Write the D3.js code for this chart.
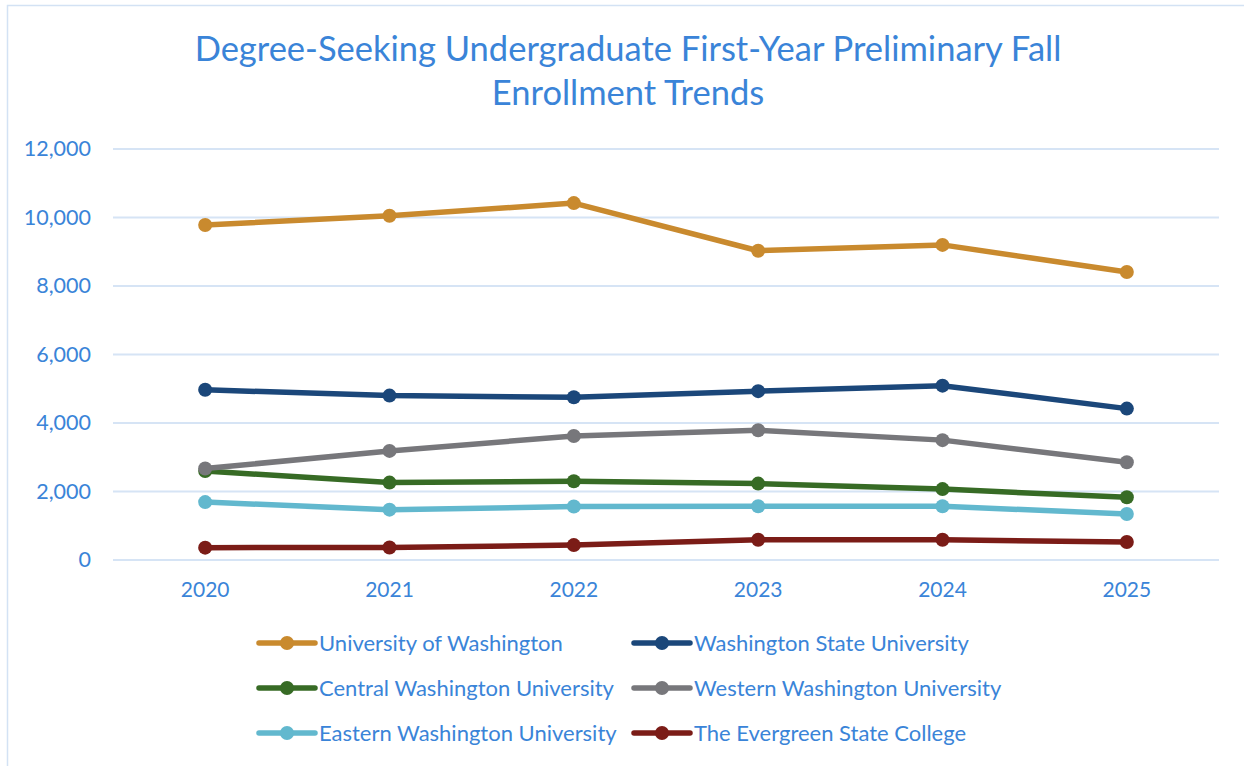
<!DOCTYPE html>
<html>
<head>
<meta charset="utf-8">
<script src="https://cdn.jsdelivr.net/npm/d3@7"></script>
<style>
  body { margin: 0; background: #fff; }
  text { font-family: Lato, "Noto Sans", sans-serif; fill: #3a84d8; }
</style>
</head>
<body>
<svg id="chart" width="1244" height="766"></svg>
<script>
const years = ["2020", "2021", "2022", "2023", "2024", "2025"];
const yTicks = [0, 2000, 4000, 6000, 8000, 10000, 12000];
const titleLines = ["Degree-Seeking Undergraduate First-Year Preliminary Fall", "Enrollment Trends"];

const uw   = [9780, 10050, 10420, 9030, 9200, 8410];
const wsu  = [4970, 4800, 4750, 4930, 5090, 4420];
const cwu  = [2600, 2260, 2300, 2230, 2070, 1830];
const wwu  = [2670, 3185, 3620, 3790, 3500, 2855];
const ewu  = [1690, 1470, 1560, 1570, 1570, 1345];
const tesc = [360, 365, 435, 590, 590, 525];

const series = [
    {name: "University of Washington", values: uw, color: "#c98a2e"},
    {name: "Washington State University", values: wsu, color: "#1b477a"},
    {name: "Central Washington University", values: cwu, color: "#376b25"},
    {name: "Western Washington University", values: wwu, color: "#77777b"},
    {name: "Eastern Washington University", values: ewu, color: "#62b8ce"},
    {name: "The Evergreen State College", values: tesc, color: "#7b1c17"}
];

const svg = d3.select("#chart");
const margin = {top: 149, right: 25, bottom: 206, left: 113};
const width = 1244 - margin.left - margin.right;
const height = 766 - margin.top - margin.bottom;

// chart frame
svg.append("rect")
    .attr("x", 7.5).attr("y", 5.5)
    .attr("width", 1250).attr("height", 800)
    .attr("fill", "none")
    .attr("stroke", "#d3e2f4")
    .attr("stroke-width", 1.5);

// title
svg.append("text")
    .attr("x", 628)
    .attr("y", 61)
    .attr("text-anchor", "middle")
    .attr("font-size", "34.5px")
    .selectAll("tspan")
    .data(titleLines)
    .enter().append("tspan")
    .attr("x", 628)
    .attr("dy", (d, i) => i === 0 ? 0 : 44)
    .text(d => d);

const g = svg.append("g").attr("transform", `translate(${margin.left},${margin.top})`);

const x = d3.scaleBand().domain(years).range([0, width]);
const y = d3.scaleLinear().domain([0, 12000]).range([height, 0]);

// gridlines
g.append("g")
    .selectAll("line")
    .data(yTicks)
    .enter().append("line")
    .attr("x1", 0).attr("x2", width)
    .attr("y1", d => y(d)).attr("y2", d => y(d))
    .attr("stroke", "#d6e4f5")
    .attr("stroke-width", 2);

// Y axis
const yAxis = d3.axisLeft(y).tickValues(yTicks).tickSize(0).tickPadding(22).tickFormat(d3.format(","));
g.append("g").call(yAxis)
    .call(s => s.select(".domain").remove())
    .selectAll("text")
    .attr("font-size", "21.5px")
    .style("font-family", "Lato, 'Noto Sans', sans-serif")
    .attr("fill", "#3a84d8");

// X axis
const xAxis = d3.axisBottom(x).tickSize(0).tickPadding(22);
g.append("g")
    .attr("transform", `translate(0,${height})`)
    .call(xAxis)
    .call(s => s.select(".domain").remove())
    .selectAll("text")
    .attr("font-size", "21px")
    .style("font-family", "Lato, 'Noto Sans', sans-serif")
    .attr("fill", "#3a84d8");

// lines
const line = d3.line()
    .x((d, i) => x(years[i]) + x.bandwidth() / 2)
    .y(d => y(d));

series.forEach(s => {
    g.append("path")
        .datum(s.values)
        .attr("fill", "none")
        .attr("stroke", s.color)
        .attr("stroke-width", 5.5)
        .attr("stroke-linejoin", "round")
        .attr("d", line);
    g.selectAll(null)
        .data(s.values)
        .enter().append("circle")
        .attr("cx", (d, i) => x(years[i]) + x.bandwidth() / 2)
        .attr("cy", d => y(d))
        .attr("r", 7)
        .attr("fill", s.color);
});

// legend
const legendCols = [259, 634];
const legendRows = [643, 688, 733];
series.forEach((s, i) => {
    const lx = legendCols[i % 2];
    const ly = legendRows[Math.floor(i / 2)];
    const lg = svg.append("g").attr("transform", `translate(${lx},${ly})`);
    lg.append("line")
        .attr("x1", 0).attr("x2", 56)
        .attr("stroke", s.color)
        .attr("stroke-width", 5.5)
        .attr("stroke-linecap", "round");
    lg.append("circle")
        .attr("cx", 28).attr("r", 7)
        .attr("fill", s.color);
    lg.append("text")
        .attr("x", 60)
        .attr("y", 7.5)
        .attr("font-size", "22px")
        .text(s.name);
});
</script>
</body>
</html>
